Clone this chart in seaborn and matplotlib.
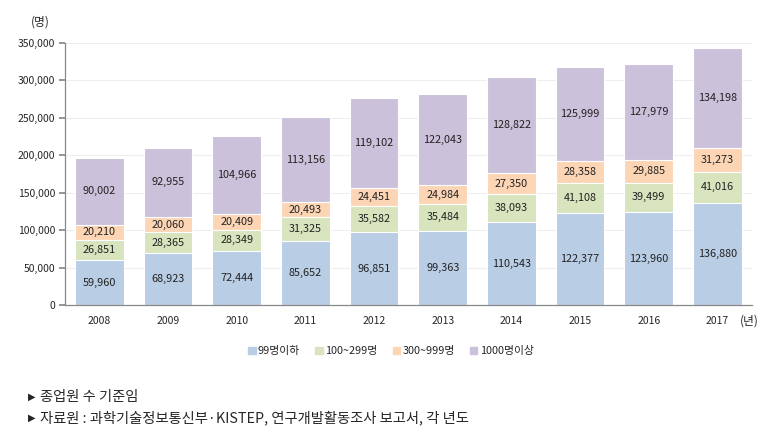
import matplotlib
matplotlib.use("Agg")
import matplotlib.pyplot as plt
import seaborn as sns
import pandas as pd
import numpy as np

years = ["2008", "2009", "2010", "2011", "2012", "2013", "2014", "2015", "2016", "2017"]
series_names = ["99명이하", "100~299명", "300~999명", "1000명이상"]
under_99 = [59960, 68923, 72444, 85652, 96851, 99363, 110543, 122377, 123960, 136880]
from_100 = [26851, 28365, 28349, 31325, 35582, 35484, 38093, 41108, 39499, 41016]
from_300 = [20210, 20060, 20409, 20493, 24451, 24984, 27350, 28358, 29885, 31273]
over_1000 = [90002, 92955, 104966, 113156, 119102, 122043, 128822, 125999, 127979, 134198]
colors = ["#b9cde5", "#d7e4bd", "#fcd5b5", "#ccc1da"]
notes = ["종업원 수 기준임",
         "자료원 : 과학기술정보통신부·KISTEP, 연구개발활동조사 보고서, 각 년도"]

sns.set_theme(style="white")
plt.rcParams["font.family"] = ["Noto Sans CJK KR", "DejaVu Sans"]

values = np.array([under_99, from_100, from_300, over_1000])
cum = values.cumsum(axis=0)

fig = plt.figure(figsize=(7.71, 4.38), dpi=100)
ax = fig.add_axes([0.0843, 0.3037, 0.8907, 0.5981])

# draw cumulative totals from the top series down so each layer covers the one above
for i in range(3, -1, -1):
    df = pd.DataFrame({"year": years, "total": cum[i]})
    sns.barplot(data=df, x="year", y="total", color=colors[i], width=0.71,
                edgecolor="white", linewidth=0.8, saturation=1, ax=ax, zorder=2)

for i in range(4):
    mids = cum[i] - values[i] / 2
    for j in range(len(years)):
        ax.text(j, mids[j], f"{values[i][j]:,}", ha="center", va="center",
                fontsize=7.8, color="#222222", zorder=3)

ax.set_xlim(-0.5, len(years) - 0.5)
ax.set_ylim(0, 350000)
ax.set_yticks(np.arange(0, 350001, 50000))
ax.set_yticklabels([f"{v:,}" for v in range(0, 350001, 50000)], fontsize=7.5)
ax.set_xticks(range(len(years)))
ax.set_xticklabels(years, fontsize=7.5)
ax.set_xticks(np.arange(-0.5, len(years)), minor=True)
ax.tick_params(axis="x", which="major", length=0, pad=8)
ax.tick_params(axis="x", which="minor", length=4, color="#888888", direction="out")
ax.tick_params(axis="y", length=4, color="#888888", direction="out", left=True, pad=3)
ax.set_xlabel("")
ax.set_ylabel("")
ax.grid(axis="y", color="#eeeeee", linewidth=0.8, zorder=0)
ax.set_axisbelow(True)
for s in ["top", "right"]:
    ax.spines[s].set_visible(False)
for s in ["left", "bottom"]:
    ax.spines[s].set_color("#888888")
    ax.spines[s].set_linewidth(0.9)

fig.text(0.052, 0.950, "(명)", fontsize=8.5, ha="center", va="center")
fig.text(0.972, 0.268, "(년)", fontsize=8.5, ha="center", va="center")

handles = [plt.Rectangle((0, 0), 1, 1, color=c) for c in colors]
fig.legend(handles, series_names, loc="center", bbox_to_anchor=(0.507, 0.198),
           ncol=4, frameon=False, fontsize=7.8, handlelength=0.7, handleheight=0.7,
           handletextpad=0.2, columnspacing=1.4)

for k, note in enumerate(notes):
    y = 0.094 - k * 0.047
    fig.text(0.036, y, "▶", fontsize=7, va="center", family=["DejaVu Sans"])
    fig.text(0.052, y, note, fontsize=10.3, va="center")

fig.savefig("out.png", dpi=100)
